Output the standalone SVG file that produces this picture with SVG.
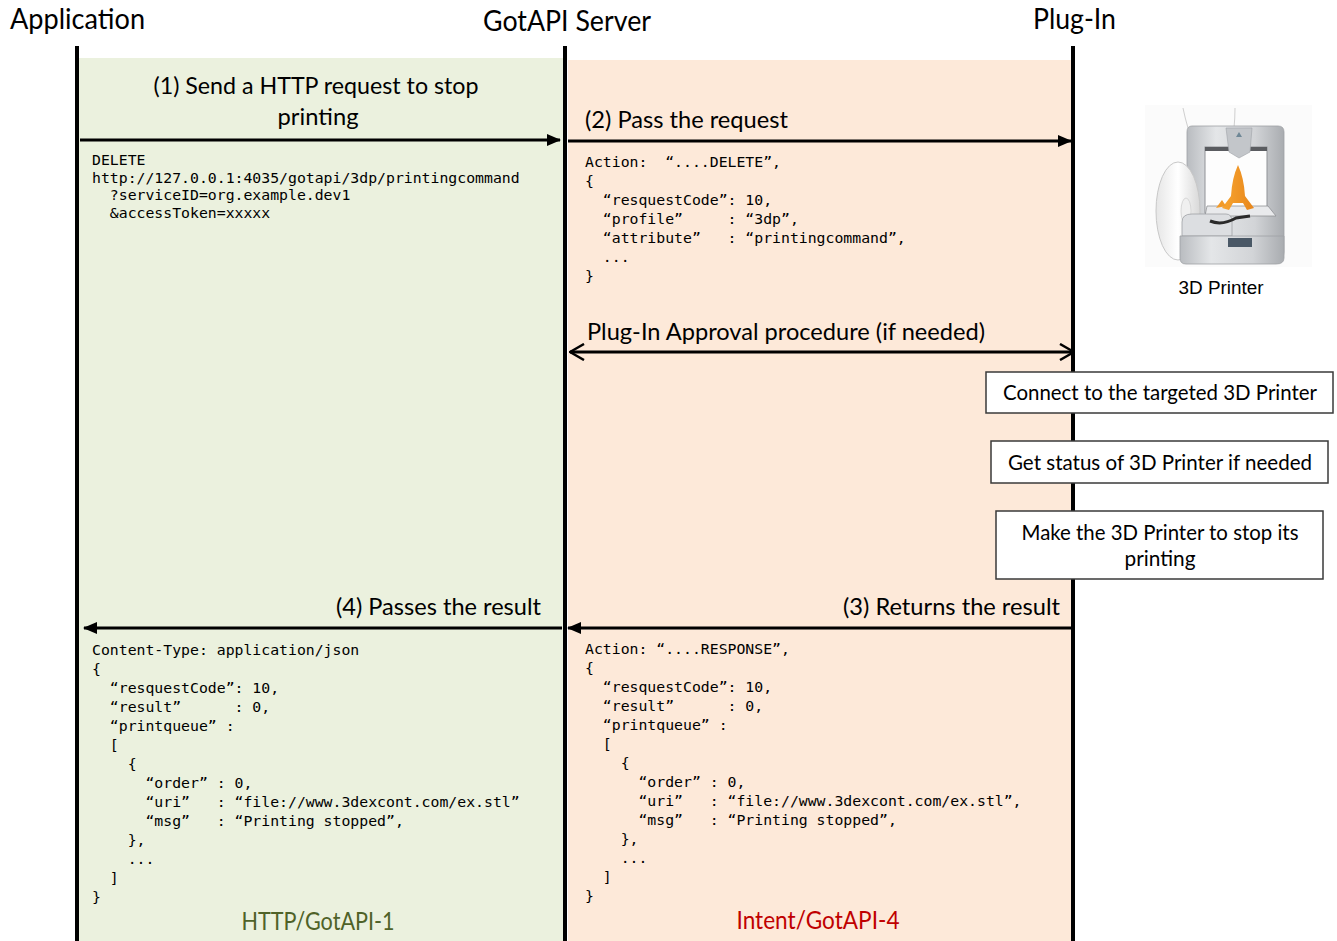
<svg xmlns="http://www.w3.org/2000/svg" width="1337" height="941" viewBox="0 0 1337 941">
<defs>
<style>
.hdr{font-family:Lato,"Liberation Sans",sans-serif;font-size:28px;fill:#000}
.lbl{font-family:Lato,"Liberation Sans",sans-serif;font-size:24px;fill:#000}
.box{font-family:Lato,"Liberation Sans",sans-serif;font-size:21px;fill:#000}
.code{font-family:"DejaVu Sans Mono","Liberation Mono",monospace;font-size:14.8px;fill:#000;white-space:pre}
.cap{font-family:"Liberation Sans",Arial,sans-serif;font-size:18px;fill:#000}
.life{stroke:#000;stroke-width:4;fill:none}
.msg{stroke:#000;stroke-width:3;fill:none}
.rect{fill:#fff;stroke:#3a3a3a;stroke-width:1.5}
</style>
<marker id="head" viewBox="0 0 14 12" refX="13" refY="6" markerWidth="14" markerHeight="12" markerUnits="userSpaceOnUse" orient="auto-start-reverse">
<path d="M0,0 L14,6 L0,12 Z" fill="#000"/>
</marker>
<marker id="vhead" viewBox="0 0 16 18" refX="15" refY="9" markerWidth="16" markerHeight="18" markerUnits="userSpaceOnUse" orient="auto-start-reverse">
<path d="M1,1 L15,9 L1,17" fill="none" stroke="#000" stroke-width="2.5"/>
</marker>
<linearGradient id="silver" x1="0" y1="0" x2="1" y2="0">
<stop offset="0" stop-color="#b9bcc0"/>
<stop offset="0.3" stop-color="#e4e6e8"/>
<stop offset="0.7" stop-color="#d2d4d7"/>
<stop offset="1" stop-color="#a9acb0"/>
</linearGradient>
<linearGradient id="spool" x1="0" y1="0" x2="1" y2="0">
<stop offset="0" stop-color="#e6e6e6"/>
<stop offset="0.5" stop-color="#ffffff"/>
<stop offset="1" stop-color="#d8d8d8"/>
</linearGradient>
<linearGradient id="orange" x1="0" y1="0" x2="1" y2="0">
<stop offset="0" stop-color="#f7a531"/>
<stop offset="1" stop-color="#e8861a"/>
</linearGradient>
</defs>

<rect width="1337" height="941" fill="#fff"/>

<g id="panels">
<rect x="78" y="58" width="486" height="883" fill="#EBF1DE"/>
<rect x="568" y="60" width="503" height="881" fill="#FDE9D9"/>
</g>

<g id="lifelines">
<line class="life" x1="77" y1="46" x2="77" y2="941"/>
<line class="life" x1="565" y1="46" x2="565" y2="941"/>
<line class="life" x1="1073" y1="46" x2="1073" y2="941"/>
</g>

<g id="headers">
<text class="hdr" x="10" y="29" textLength="135" lengthAdjust="spacingAndGlyphs">Application</text>
<text class="hdr" x="483" y="31" textLength="168" lengthAdjust="spacingAndGlyphs">GotAPI Server</text>
<text class="hdr" x="1033" y="29" textLength="83" lengthAdjust="spacingAndGlyphs">Plug-In</text>
</g>

<g id="connectors">
<line class="msg" x1="80" y1="140" x2="560" y2="140" marker-end="url(#head)"/>
<line class="msg" x1="568" y1="141" x2="1071" y2="141" marker-end="url(#head)"/>
<line class="msg" x1="570" y1="352" x2="1074" y2="352" stroke-width="2.5" marker-start="url(#vhead)" marker-end="url(#vhead)"/>
<line class="msg" x1="1071" y1="628" x2="568" y2="628" marker-end="url(#head)"/>
<line class="msg" x1="562" y1="628" x2="84" y2="628" marker-end="url(#head)"/>
</g>

<g id="msg1">
<text class="lbl" x="316" y="94" text-anchor="middle" textLength="325" lengthAdjust="spacingAndGlyphs">(1) Send a HTTP request to stop</text>
<text class="lbl" x="318" y="125" text-anchor="middle" textLength="81" lengthAdjust="spacingAndGlyphs">printing</text>
<text class="code" xml:space="preserve"><tspan x="92" y="165">DELETE</tspan><tspan x="92" y="182.5">http://127.0.0.1:4035/gotapi/3dp/printingcommand</tspan><tspan x="92" y="200">  ?serviceID=org.example.dev1</tspan><tspan x="92" y="217.5">  &amp;accessToken=xxxxx</tspan></text>
</g>

<g id="msg2">
<text class="lbl" x="585" y="128" textLength="203" lengthAdjust="spacingAndGlyphs">(2) Pass the request</text>
<text class="code" xml:space="preserve"><tspan x="585" y="167">Action:  “....DELETE”,</tspan><tspan x="585" y="186">{</tspan><tspan x="585" y="205">  “resquestCode”: 10,</tspan><tspan x="585" y="224">  “profile”     : “3dp”,</tspan><tspan x="585" y="243">  “attribute”   : “printingcommand”,</tspan><tspan x="585" y="262">  ...</tspan><tspan x="585" y="281">}</tspan></text>
</g>

<g id="approval">
<text class="lbl" x="587" y="340" textLength="398" lengthAdjust="spacingAndGlyphs">Plug-In Approval procedure (if needed)</text>
</g>

<g id="step-connect">
<rect class="rect" x="986" y="372" width="347" height="41"/>
<text class="box" x="1160" y="400" text-anchor="middle" textLength="314" lengthAdjust="spacingAndGlyphs">Connect to the targeted 3D Printer</text>
</g>
<g id="step-status">
<rect class="rect" x="991" y="441" width="337" height="42"/>
<text class="box" x="1160" y="470" text-anchor="middle" textLength="304" lengthAdjust="spacingAndGlyphs">Get status of 3D Printer if needed</text>
</g>
<g id="step-stop">
<rect class="rect" x="996" y="511" width="327" height="68"/>
<text class="box" x="1160" y="540" text-anchor="middle" textLength="277" lengthAdjust="spacingAndGlyphs">Make the 3D Printer to stop its</text>
<text class="box" x="1160" y="566" text-anchor="middle" textLength="71" lengthAdjust="spacingAndGlyphs">printing</text>
</g>

<g id="msg3">
<text class="lbl" x="1060" y="615" text-anchor="end" textLength="217" lengthAdjust="spacingAndGlyphs">(3) Returns the result</text>
<text class="code" xml:space="preserve"><tspan x="585" y="654">Action: “....RESPONSE”,</tspan><tspan x="585" y="673">{</tspan><tspan x="585" y="692">  “resquestCode”: 10,</tspan><tspan x="585" y="711">  “result”      : 0,</tspan><tspan x="585" y="730">  “printqueue” :</tspan><tspan x="585" y="749">  [</tspan><tspan x="585" y="768">    {</tspan><tspan x="585" y="787">      “order” : 0,</tspan><tspan x="585" y="806">      “uri”   : “file://www.3dexcont.com/ex.stl”,</tspan><tspan x="585" y="825">      “msg”   : “Printing stopped”,</tspan><tspan x="585" y="844">    },</tspan><tspan x="585" y="863">    ...</tspan><tspan x="585" y="882">  ]</tspan><tspan x="585" y="901">}</tspan></text>
</g>

<g id="msg4">
<text class="lbl" x="541" y="615" text-anchor="end" textLength="205" lengthAdjust="spacingAndGlyphs">(4) Passes the result</text>
<text class="code" xml:space="preserve"><tspan x="92" y="655">Content-Type: application/json</tspan><tspan x="92" y="674">{</tspan><tspan x="92" y="693">  “resquestCode”: 10,</tspan><tspan x="92" y="712">  “result”      : 0,</tspan><tspan x="92" y="731">  “printqueue” :</tspan><tspan x="92" y="750">  [</tspan><tspan x="92" y="769">    {</tspan><tspan x="92" y="788">      “order” : 0,</tspan><tspan x="92" y="807">      “uri”   : “file://www.3dexcont.com/ex.stl”</tspan><tspan x="92" y="826">      “msg”   : “Printing stopped”,</tspan><tspan x="92" y="845">    },</tspan><tspan x="92" y="864">    ...</tspan><tspan x="92" y="883">  ]</tspan><tspan x="92" y="902">}</tspan></text>
</g>

<g id="protocol-labels">
<text class="lbl" x="318" y="930" text-anchor="middle" fill="#4F6228" style="fill:#4F6228;font-size:25px" textLength="153" lengthAdjust="spacingAndGlyphs">HTTP/GotAPI-1</text>
<text class="lbl" x="818" y="929" text-anchor="middle" style="fill:#C00000;font-size:25px" textLength="163" lengthAdjust="spacingAndGlyphs">Intent/GotAPI-4</text>
</g>

<g id="printer">
<rect x="1145" y="105" width="167" height="162" fill="#fbfbfb"/>
<path d="M1183,108 Q1185,118 1188,128" stroke="#cfcfcf" stroke-width="1" fill="none"/>
<path d="M1235,108 Q1235,118 1234,128" stroke="#cfcfcf" stroke-width="1" fill="none"/>
<path d="M1192,126 L1278,126 Q1284,126 1284,132 L1284,252 Q1284,262 1274,262 L1192,262 Q1187,262 1187,256 L1187,132 Q1187,126 1192,126 Z" fill="url(#silver)" stroke="#9ea1a5" stroke-width="0.8"/>
<rect x="1205" y="147" width="62" height="66" fill="#fdfdfd" stroke="#8f9296" stroke-width="1"/>
<rect x="1205" y="147" width="62" height="4" fill="#5a5c60"/>
<path d="M1226,128 L1252,128 L1250,152 L1239,158 L1229,152 Z" fill="#c3c6ca" stroke="#a0a3a7" stroke-width="0.6"/>
<path d="M1236,137 L1239,132 L1242,137 Z" fill="#6f8796"/>
<ellipse cx="1178" cy="211" rx="22" ry="49" fill="url(#spool)" stroke="#c8c8c8" stroke-width="1"/>
<ellipse cx="1186" cy="211" rx="5" ry="13" fill="#f0f0f0" stroke="#d0d0d0" stroke-width="0.8"/>
<path d="M1207,206 L1268,206 L1276,216 L1205,216 Z" fill="#e9eaec" stroke="#8f9296" stroke-width="0.8"/>
<path d="M1238,165 Q1244,178 1245,196 L1254,208 L1247,210 L1243,203 L1233,203 L1229,210 L1222,208 L1231,196 Q1232,178 1238,165 Z" fill="url(#orange)"/>
<path d="M1222,200 L1216,208 L1226,206 Z" fill="#f29a28"/>
<path d="M1182,222 Q1182,214 1192,214 L1226,214 Q1232,214 1232,222 L1232,236 L1182,236 Z" fill="#dcdee1" stroke="#9ea1a5" stroke-width="0.8"/>
<path d="M1210,221 Q1222,226 1236,218 L1250,216" stroke="#2a2a2a" stroke-width="3" fill="none"/>
<path d="M1180,236 L1284,236 L1284,258 Q1284,264 1276,264 L1186,264 Q1180,264 1180,258 Z" fill="url(#silver)" stroke="#9ea1a5" stroke-width="0.8"/>
<rect x="1228" y="238" width="24" height="9" fill="#4a5866"/>
<text class="cap" x="1221" y="294" text-anchor="middle" textLength="85" lengthAdjust="spacingAndGlyphs">3D Printer</text>
</g>
</svg>
